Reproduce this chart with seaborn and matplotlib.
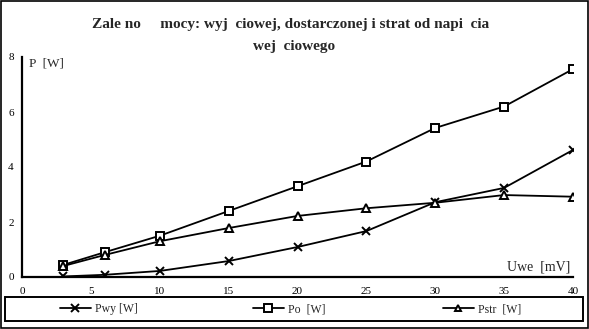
import matplotlib
matplotlib.use("Agg")
import matplotlib.pyplot as plt
import seaborn as sns
import pandas as pd
from matplotlib.patches import Rectangle

# Data
uwe = [3, 6, 10, 15, 20, 25, 30, 35, 40]
p_wy = [0.02, 0.08, 0.22, 0.58, 1.09, 1.67, 2.72, 3.24, 4.62]
p_o = [0.44, 0.90, 1.50, 2.40, 3.30, 4.20, 5.42, 6.20, 7.56]
p_str = [0.40, 0.80, 1.30, 1.78, 2.22, 2.50, 2.70, 2.98, 2.92]
series_names = ["Pwy [W]", "Po  [W]", "Pstr  [W]"]
x_ticks = [0, 5, 10, 15, 20, 25, 30, 35, 40]
y_ticks = [0, 2, 4, 6, 8]
title_line1 = "Zale no     mocy: wyj  ciowej, dostarczonej i strat od napi  cia"
title_line2 = "wej  ciowego"

sns.set_theme(style="white")
plt.rcParams["font.family"] = ["Liberation Serif", "DejaVu Serif"]

W, H = 589, 329
fig = plt.figure(figsize=(W / 100, H / 100), dpi=100)
ax = fig.add_axes([22 / W, 1 - 277 / H, (573 - 22) / W, (277 - 57) / H])

markers = ["x", "s", "^"]
msizes = [6, 6, 5.5]
handles = []
for name, vals, mk, ms in zip(series_names, [p_wy, p_o, p_str], markers, msizes):
    df = pd.DataFrame({"Uwe": uwe, "P": vals})
    sns.lineplot(data=df, x="Uwe", y="P", ax=ax, color="black", linewidth=1.3,
                 marker=mk, markersize=ms, markerfacecolor="white",
                 markeredgecolor="black", markeredgewidth=1.4)
    handles.append(ax.lines[-1])

ax.set_xlim(0, 40)
ax.set_ylim(0, 8)
ax.set_xticks(x_ticks)
ax.set_yticks(y_ticks)
ax.set_xticklabels([str(t) for t in x_ticks], fontsize=8)
ax.set_yticklabels([str(t) for t in y_ticks], fontsize=8)
ax.set_xlabel("")
ax.set_ylabel("")
for s in ["top", "right"]:
    ax.spines[s].set_visible(False)
for s in ["left", "bottom"]:
    ax.spines[s].set_color("black")
    ax.spines[s].set_linewidth(1.6)
ax.tick_params(axis="x", direction="inout", length=6, width=1.3, colors="black", pad=4)
ax.tick_params(axis="y", direction="out", length=4, width=1.3, colors="black", pad=2)

ax.text(0.012, 1.0, "P  [W]", transform=ax.transAxes, fontsize=9.5, va="top", ha="left")
ax.text(0.995, 0.015, "Uwe  [mV]", transform=ax.transAxes, fontsize=10, va="bottom", ha="right")

fig.text(0.493, 1 - 28 / H, title_line1, fontsize=11, fontweight="bold",
         ha="center", va="baseline")
fig.text(0.50, 1 - 50 / H, title_line2, fontsize=11, fontweight="bold",
         ha="center", va="baseline")

# legend frame
fig.patches.append(Rectangle((5 / W, 1 - 321 / H), (583 - 5) / W, (321 - 297) / H,
                             transform=fig.transFigure, fill=False,
                             edgecolor="black", linewidth=1.4))
leg_x = [60, 253, 443]
for h, name, lx in zip(handles, series_names, leg_x):
    lg = fig.legend([h], [name], loc="center left", bbox_to_anchor=(lx / W, 1 - 309 / H),
                    frameon=False, fontsize=8.5, handlelength=2.6, handletextpad=0.35,
                    borderaxespad=0, borderpad=0, markerscale=0.9)

# outer border
fig.patches.append(Rectangle((0.002, 0.003), 0.996, 0.994, transform=fig.transFigure,
                             fill=False, edgecolor="black", linewidth=1.2))

fig.savefig("out.png", dpi=100)
